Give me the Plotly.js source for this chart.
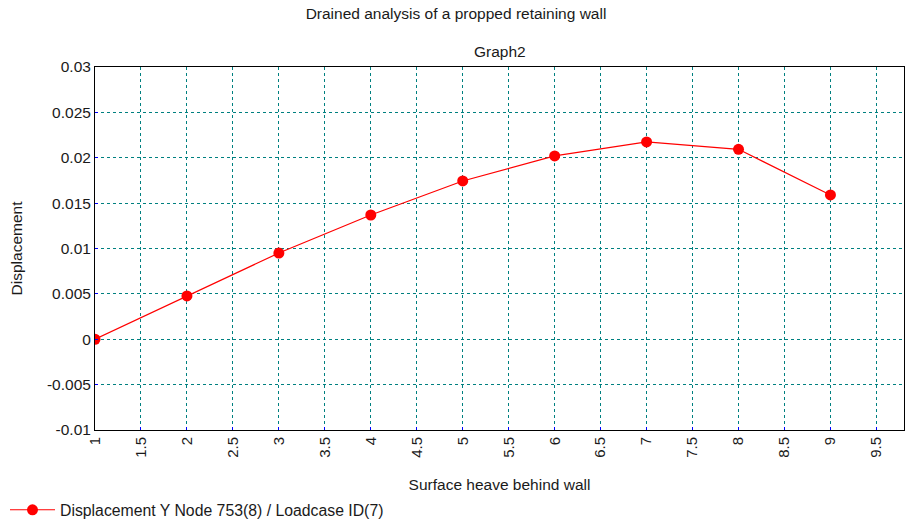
<!DOCTYPE html>
<html>
<head>
<meta charset="utf-8">
<script src="https://cdn.plot.ly/plotly-3.0.1.min.js"></script>
<style>html,body{margin:0;padding:0;background:#fff;}#chart{width:912px;height:520px;}</style>
</head>
<body>
<div id="chart"></div>
<script>
const stages = [1, 2, 3, 4, 5, 6, 7, 8, 9];
const displacementY = [0.0, 0.00477, 0.0095, 0.01369, 0.01744, 0.0202, 0.02174, 0.02093, 0.0159];
const xTicks = [1, 1.5, 2, 2.5, 3, 3.5, 4, 4.5, 5, 5.5, 6, 6.5, 7, 7.5, 8, 8.5, 9, 9.5];
const yTicks = [-0.01, -0.005, 0, 0.005, 0.01, 0.015, 0.02, 0.025, 0.03];
const yTickLabels = ['-0.01', '-0.005', '0', '0.005', '0.01', '0.015', '0.02', '0.025', '0.03'];

const font = 'Liberation Sans, Arial, sans-serif';
const textColor = '#1a1a1a';

const trace = {
  x: stages,
  y: displacementY,
  type: 'scatter',
  mode: 'lines+markers',
  name: 'Displacement Y Node 753(8) / Loadcase ID(7)',
  line: {color: '#ff0000', width: 1.2},
  marker: {color: '#ff0000', size: 11}
};

const layout = {
  width: 912, height: 520,
  paper_bgcolor: '#ffffff', plot_bgcolor: '#ffffff',
  margin: {l: 95, r: 8, t: 67, b: 90},
  font: {family: font, size: 15, color: textColor},
  title: {text: 'Drained analysis of a propped retaining wall', font: {family: font, size: 15.5, color: textColor},
          x: 0.5, xref: 'container', y: 1 - 14/520, yref: 'container', yanchor: 'middle'},
  annotations: [{text: 'Graph2', xref: 'paper', yref: 'paper', x: 0.5, y: 1 + (67 - 52) / 363,
                 yanchor: 'middle', showarrow: false, font: {family: font, size: 15.5, color: textColor}}],
  xaxis: {
    range: [1, 9.8], tickvals: xTicks, ticktext: xTicks.map(String), tickangle: -90,
    showgrid: true, gridcolor: '#008080', griddash: '3px,3px', gridwidth: 1,
    zeroline: false, showline: true, linecolor: '#000', linewidth: 1, mirror: true,
    ticks: 'inside', ticklen: 3, tickcolor: '#0000ff',
    tickfont: {family: font, size: 15, color: textColor},
    title: {text: 'Surface heave behind wall', font: {family: font, size: 15.5, color: textColor}, standoff: 22}
  },
  yaxis: {
    range: [-0.01, 0.03], tickvals: yTicks, ticktext: yTickLabels,
    showgrid: true, gridcolor: '#008080', griddash: '3px,3px', gridwidth: 1,
    zeroline: false, showline: true, linecolor: '#000', linewidth: 1, mirror: true,
    ticks: 'inside', ticklen: 3, tickcolor: '#0000ff',
    tickfont: {family: font, size: 15.5, color: textColor},
    title: {text: 'Displacement', font: {family: font, size: 15.5, color: textColor}, standoff: 20}
  },
  showlegend: true,
  legend: {x: 5/912, xref: 'container', xanchor: 'left', y: 1 - 510/520, yref: 'container', yanchor: 'middle',
           orientation: 'h', font: {family: font, size: 15.8, color: textColor}, itemwidth: 45,
           bgcolor: 'rgba(0,0,0,0)'}
};

Plotly.newPlot('chart', [trace], layout, {displayModeBar: false, staticPlot: true});
</script>
</body>
</html>
